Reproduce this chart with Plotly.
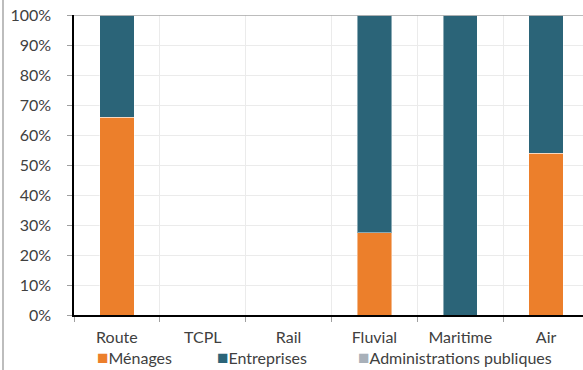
import plotly.graph_objects as go

# Modes de transport et répartition par type d'acteur (en % du total)
categories = ["Route", "TCPL", "Rail", "Fluvial", "Maritime", "Air"]
series_names = ["Ménages", "Entreprises", "Administrations publiques"]
menages = [66, 0, 0, 27.5, 0, 54]
entreprises = [34, 0, 0, 72.5, 100, 46]
administrations = [0, 0, 0, 0, 0, 0]
y_ticks = [0, 10, 20, 30, 40, 50, 60, 70, 80, 90, 100]

colors = ["#EC7F2B", "#2B6478", "#A8B0B9"]
series_values = [menages, entreprises, administrations]

FONT = "Lato"
TEXT = "#404040"
SIZE = 16

fig = go.Figure()
for name, vals, col in zip(series_names, series_values, colors):
    fig.add_trace(go.Bar(
        x=categories, y=vals, name=name,
        marker=dict(color=col, line=dict(color="rgba(255,255,255,0.45)", width=1)),
        showlegend=False,
    ))

fig.update_layout(
    barmode="stack",
    bargap=0.6,
    width=583, height=370,
    margin=dict(l=74, r=0, t=15, b=55),
    paper_bgcolor="white",
    plot_bgcolor="white",
    font=dict(family=FONT, size=SIZE, color=TEXT),
    xaxis=dict(
        type="category",
        range=[-0.5, 5.43],
        tickson="boundaries",
        ticks="outside", ticklen=5, tickcolor="#a0a0a0",
        showgrid=True, gridcolor="#ebebeb", gridwidth=1,
        showline=True, linecolor="black", linewidth=1.5,
        ticklabelstandoff=7,
        tickfont=dict(family=FONT, size=SIZE, color=TEXT),
    ),
    yaxis=dict(
        range=[0, 100],
        tickvals=y_ticks,
        ticktext=[f"{v}%" for v in y_ticks],
        ticks="outside", ticklen=5, tickcolor="#a0a0a0",
        showgrid=True, gridcolor="#ebebeb", gridwidth=1,
        showline=True, linecolor="black", linewidth=1.5,
        zeroline=False,
        ticklabelstandoff=13,
        tickfont=dict(family=FONT, size=SIZE, color=TEXT),
    ),
)

# Darker line at the top of the value axis
fig.add_shape(type="line", xref="paper", yref="y", x0=0, x1=1, y0=100, y1=100,
              line=dict(color="#a6a6a6", width=1.5), layer="above")

# Grey frame edge on the left
fig.add_shape(type="line", xref="paper", yref="paper", x0=-71 / 509, x1=-71 / 509,
              y0=-55 / 300, y1=1 + 15 / 300, line=dict(color="#bdbdbd", width=2))

# Legend drawn as coloured squares followed by series names
legend_x = [95, 215, 356]
for name, col, px in zip(series_names, colors, legend_x):
    fig.add_annotation(
        xref="paper", yref="paper",
        x=(px - 74) / 509, y=-(356 - 315) / 300,
        xanchor="left", yanchor="middle", showarrow=False,
        text=f"<span style='color:{col};font-size:19px'>■</span>{name}",
        font=dict(family=FONT, size=SIZE, color=TEXT),
    )

fig.write_html("out.html")
